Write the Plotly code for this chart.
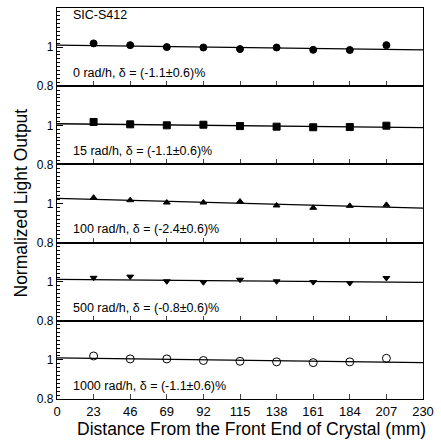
import numpy as np
import plotly.graph_objects as go
from plotly.subplots import make_subplots

distance = [23, 46, 69, 92, 115, 138, 161, 184, 207]
lo_0 = [1.019, 1.010, 1.000, 0.998, 0.990, 0.998, 0.986, 0.985, 1.010]
lo_15 = [1.017, 1.005, 1.000, 1.003, 0.996, 0.993, 0.990, 0.991, 0.998]
lo_100 = [1.030, 1.017, 1.005, 1.005, 1.010, 0.990, 0.978, 0.988, 0.993]
lo_500 = [1.020, 1.026, 1.002, 0.997, 1.010, 1.002, 0.998, 0.993, 1.019]
lo_1000 = [1.020, 1.005, 1.005, 0.997, 0.993, 0.990, 0.986, 0.990, 1.008]
fit_start = [1.010, 1.008, 1.026, 1.012, 1.010]
fit_end = [0.986, 0.988, 0.976, 0.997, 0.986]
labels = ["0 rad/h, δ = (-1.1±0.6)%", "15 rad/h, δ = (-1.1±0.6)%",
          "100 rad/h, δ = (-2.4±0.6)%", "500 rad/h, δ = (-0.8±0.6)%",
          "1000 rad/h, δ = (-1.1±0.6)%"]
series = [lo_0, lo_15, lo_100, lo_500, lo_1000]
symbols = ["circle", "square", "triangle-up", "triangle-down", "circle-open"]
sizes = [7, 7, 6, 6, 8]
x_ticks = [0, 23, 46, 69, 92, 115, 138, 161, 184, 207, 230]
fit_x = [0, 230]

FONT = "Liberation Sans, Arial, sans-serif"

fig = make_subplots(rows=5, cols=1, shared_xaxes=False, vertical_spacing=0)

for i, (ys, sym, sz, lab) in enumerate(zip(series, symbols, sizes, labels)):
    r = i + 1
    fig.add_trace(go.Scatter(x=fit_x, y=[fit_start[i], fit_end[i]], mode="lines",
                             line=dict(color="black", width=1.3), showlegend=False,
                             hoverinfo="skip"), row=r, col=1)
    fig.add_trace(go.Scatter(x=distance, y=ys, mode="markers",
                             marker=dict(symbol=sym, size=sz, color="black",
                                         line=dict(color="black", width=1)),
                             showlegend=False), row=r, col=1)
    fig.add_annotation(x=9.0, y=0.867, text=lab, showarrow=False, xanchor="left",
                       yanchor="middle", font=dict(family=FONT, size=12.5, color="black"),
                       xref=f"x{'' if r == 1 else r}", yref=f"y{'' if r == 1 else r}")
    fig.update_yaxes(range=[0.8, 1.2], tickvals=[0.8, 1.0], ticktext=["0.8", "1"],
                     ticks="inside", ticklen=6, tickwidth=1, tickcolor="black",
                     showline=True, linecolor="black", linewidth=1.2, mirror=True,
                     showgrid=False, zeroline=False,
                     minor=dict(dtick=0.02, tick0=0.8, ticks="inside", ticklen=3,
                                tickcolor="black", tickwidth=1),
                     tickfont=dict(family=FONT, size=12, color="black"),
                     row=r, col=1)
    fig.update_xaxes(range=[0, 230], tickvals=x_ticks, ticks="inside", ticklen=5,
                     tickcolor="#444", tickwidth=1, showline=True, linecolor="black",
                     linewidth=1.2, mirror=True, showgrid=False, zeroline=False,
                     showticklabels=(r == 5),
                     tickfont=dict(family=FONT, size=13, color="black"),
                     row=r, col=1)

fig.add_annotation(x=9.0, y=1.165, text="SIC-S412", showarrow=False, xanchor="left",
                   yanchor="middle", font=dict(family=FONT, size=12.5, color="black"),
                   xref="x", yref="y")

fig.add_annotation(x=0.5, y=0, xref="paper", yref="paper", xshift=11, yshift=-30,
                   text="Distance From the Front End of Crystal (mm)", showarrow=False,
                   yanchor="middle", font=dict(family=FONT, size=17.5, color="black"))
fig.add_annotation(x=0, y=0.5, xref="paper", yref="paper", xshift=-49,
                   text="Normalized Light Output", textangle=-90, showarrow=False,
                   font=dict(family=FONT, size=17.5, color="black"))

fig.update_layout(width=441, height=440, margin=dict(l=57, r=16, t=7, b=41),
                  plot_bgcolor="white", paper_bgcolor="white", showlegend=False)

fig.write_html("out.html", config={"displayModeBar": False},
               post_script="document.body.style.margin='0';document.body.style.overflow='hidden';")
